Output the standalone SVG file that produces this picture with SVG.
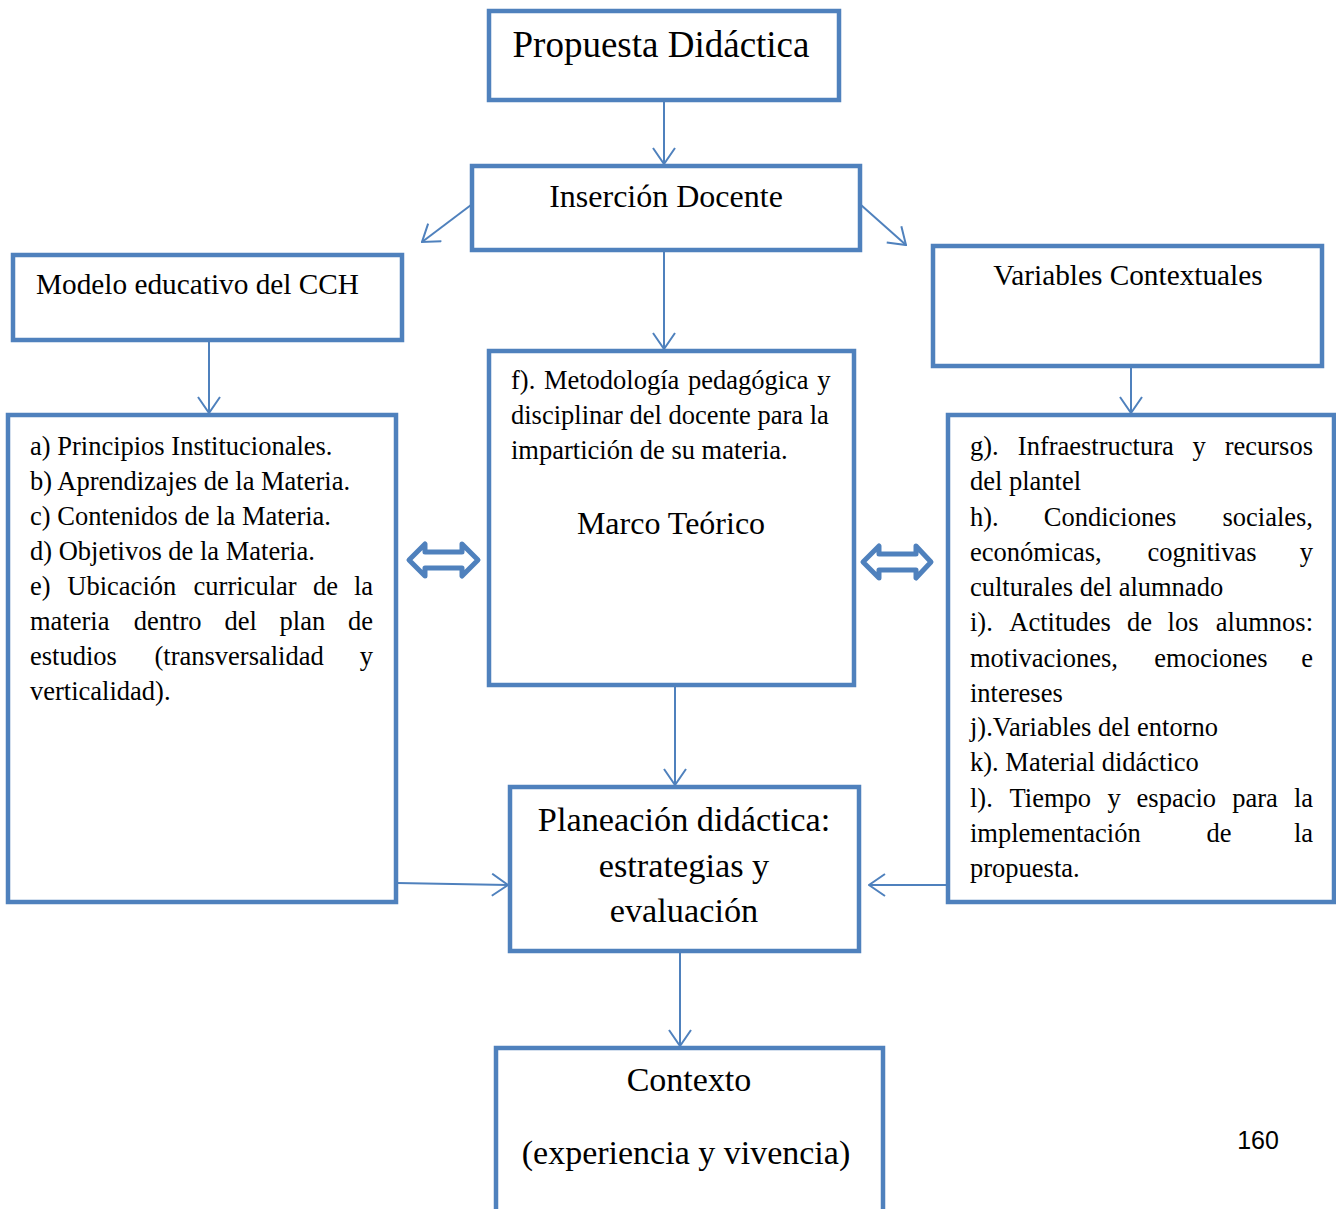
<svg xmlns="http://www.w3.org/2000/svg" width="1336" height="1209" viewBox="0 0 1336 1209">
  <style>
    .box { fill: #ffffff; stroke: #4F81BD; stroke-width: 4.5; }
    .conn { fill: none; stroke: #4F81BD; stroke-width: 2; marker-end: url(#open); }
    .dbl { fill: #ffffff; stroke: #4F81BD; stroke-width: 5; stroke-linejoin: round; }
    text { font-family: "Liberation Serif", "Times New Roman", serif; fill: #000000; }
    .body { font-size: 26.5px; }
    .mid { text-anchor: middle; }
    .c { text-anchor: middle; }
    .e { text-anchor: end; }
  </style>
  <defs>
    <marker id="open" markerUnits="userSpaceOnUse" viewBox="0 0 18 24" markerWidth="18" markerHeight="24" refX="17" refY="12" orient="auto">
      <path d="M1,1 L17,12 L1,23" fill="none" stroke="#4F81BD" stroke-width="2"/>
    </marker>
  </defs>

  <rect width="1336" height="1209" fill="#ffffff"/>

  <!-- connectors -->
  <g id="connectors">
    <line class="conn" x1="664" y1="100" x2="664" y2="164"/>
    <line class="conn" x1="471" y1="205" x2="422" y2="242"/>
    <line class="conn" x1="861" y1="205" x2="906" y2="245"/>
    <line class="conn" x1="664" y1="251" x2="664" y2="349"/>
    <line class="conn" x1="209" y1="341" x2="209" y2="413"/>
    <line class="conn" x1="1131" y1="367" x2="1131" y2="413"/>
    <line class="conn" x1="675" y1="686" x2="675" y2="785"/>
    <line class="conn" x1="397" y1="883" x2="508" y2="885"/>
    <line class="conn" x1="947" y1="885" x2="869" y2="885"/>
    <line class="conn" x1="680" y1="952" x2="680" y2="1046"/>
    <!-- two-way block arrows -->
    <path class="dbl" d="M409,560 L425,544 L425,552 L462,552 L462,544 L478,560 L462,576 L462,568 L425,568 L425,576 Z"/>
    <path class="dbl" d="M863,562 L879,546 L879,554 L916,554 L916,546 L931,562 L916,578 L916,570 L879,570 L879,578 Z"/>
  </g>

  <g id="propuesta">
    <rect class="box" x="489" y="11" width="350" height="89"/>
    <text class="mid" x="661" y="57" font-size="37">Propuesta Didáctica</text>
  </g>

  <g id="insercion">
    <rect class="box" x="472" y="166" width="388" height="84"/>
    <text class="mid" x="666" y="207" font-size="32">Inserción Docente</text>
  </g>

  <g id="modelo">
    <rect class="box" x="13" y="255" width="389" height="85"/>
    <text x="36" y="294" font-size="29.3">Modelo educativo del CCH</text>
  </g>

  <g id="variables">
    <rect class="box" x="933" y="246" width="389" height="120"/>
    <text class="mid" x="1128" y="285" font-size="29.3">Variables Contextuales</text>
  </g>

  <g id="principios" class="body">
    <rect class="box" x="8" y="415" width="388" height="487"/>
    <text x="30" y="454.5">a) Principios Institucionales.</text>
    <text x="30" y="489.6">b) Aprendizajes de la Materia.</text>
    <text x="30" y="524.7">c) Contenidos de la Materia.</text>
    <text x="30" y="559.8">d) Objetivos de la Materia.</text>
    <text y="594.9"><tspan x="30">e)</tspan><tspan class="c" x="121.8">Ubicación</tspan><tspan class="c" x="245.1">curricular</tspan><tspan class="c" x="325.6">de</tspan><tspan class="e" x="373">la</tspan></text>
    <text y="630"><tspan x="30">materia</tspan><tspan class="c" x="167.7">dentro</tspan><tspan class="c" x="240.7">del</tspan><tspan class="c" x="302.4">plan</tspan><tspan class="e" x="373">de</tspan></text>
    <text y="665.1"><tspan x="30">estudios</tspan><tspan class="c" x="239.1">(transversalidad</tspan><tspan class="e" x="373">y</tspan></text>
    <text x="30" y="700.2">verticalidad).</text>
  </g>

  <g id="metodologia" class="body">
    <rect class="box" x="489" y="351" width="365" height="334"/>
    <text x="511" y="389" word-spacing="2">f). Metodología pedagógica y</text>
    <text x="511" y="424">disciplinar del docente para la</text>
    <text x="511" y="459">impartición de su materia.</text>
    <text class="mid" x="671" y="534" font-size="32">Marco Teórico</text>
  </g>

  <g id="contextuales" class="body">
    <rect class="box" x="948" y="415" width="386" height="487"/>
    <text y="455"><tspan x="970">g).</tspan><tspan class="c" x="1095.8">Infraestructura</tspan><tspan class="c" x="1199.2">y</tspan><tspan class="e" x="1313">recursos</tspan></text>
    <text x="970" y="490.3">del plantel</text>
    <text y="525.5"><tspan x="970">h).</tspan><tspan class="c" x="1110">Condiciones</tspan><tspan class="e" x="1313">sociales,</tspan></text>
    <text y="560.8"><tspan x="970">económicas,</tspan><tspan class="c" x="1202">cognitivas</tspan><tspan class="e" x="1313">y</tspan></text>
    <text x="970" y="596">culturales del alumnado</text>
    <text y="631.3"><tspan x="970">i).</tspan><tspan class="c" x="1060.1">Actitudes</tspan><tspan class="c" x="1139.6">de</tspan><tspan class="c" x="1183">los</tspan><tspan class="e" x="1313">alumnos:</tspan></text>
    <text y="666.5"><tspan x="970">motivaciones,</tspan><tspan class="c" x="1211">emociones</tspan><tspan class="e" x="1313">e</tspan></text>
    <text x="970" y="701.8">intereses</text>
    <text x="970" y="736">j).Variables del entorno</text>
    <text x="970" y="771.3">k). Material didáctico</text>
    <text y="806.5"><tspan x="970">l).</tspan><tspan class="c" x="1050.3">Tiempo</tspan><tspan class="c" x="1114">y</tspan><tspan class="c" x="1176.3">espacio</tspan><tspan class="c" x="1255.1">para</tspan><tspan class="e" x="1313">la</tspan></text>
    <text y="841.8"><tspan x="970">implementación</tspan><tspan class="c" x="1219">de</tspan><tspan class="e" x="1313">la</tspan></text>
    <text x="970" y="877">propuesta.</text>
  </g>

  <g id="planeacion">
    <rect class="box" x="510" y="787" width="349" height="164"/>
    <text class="mid" x="684" y="831" font-size="34.3">Planeación didáctica:</text>
    <text class="mid" x="684" y="877" font-size="34.3">estrategias y</text>
    <text class="mid" x="684" y="922" font-size="34.3">evaluación</text>
  </g>

  <g id="contexto">
    <rect class="box" x="496" y="1048" width="387" height="200"/>
    <text class="mid" x="689" y="1091" font-size="34">Contexto</text>
    <text class="mid" x="686" y="1164" font-size="34">(experiencia y vivencia)</text>
  </g>

  <text x="1258" y="1149" text-anchor="middle" font-size="25" style="font-family: 'Liberation Sans', Arial, sans-serif;">160</text>
</svg>
